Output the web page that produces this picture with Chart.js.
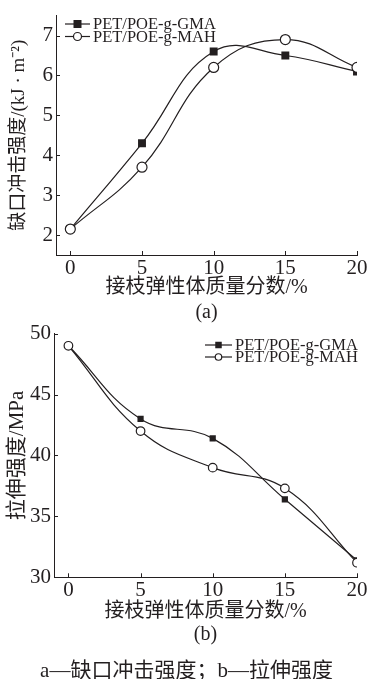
<!DOCTYPE html>
<html>
<head>
<meta charset="utf-8">
<script src="https://cdn.jsdelivr.net/npm/chart.js@4.4.1/dist/chart.umd.min.js"></script>
<style>
  html, body { margin: 0; padding: 0; background: #fff; }
  body { width: 369px; height: 679px; position: relative; overflow: hidden; }
  canvas { position: absolute; left: 0; }
  #chartA { top: 0; }
  #chartB { top: 318px; }
</style>
</head>
<body>
<canvas id="chartA" width="369" height="325"></canvas>
<canvas id="chartB" width="369" height="361"></canvas>
<script>
const contents = [0, 5, 10, 15, 20];
const impactGMA = [2.15, 4.3, 6.6, 6.5, 6.1];
const impactMAH = [2.15, 3.7, 6.2, 6.9, 6.2];
const tensileGMA = [49, 43, 41.4, 36.4, 31.4];
const tensileMAH = [49, 42, 39, 37.3, 31.2];
const xTicks = [0, 5, 10, 15, 20];
const impactTicks = [2, 3, 4, 5, 6, 7];
const tensileTicks = [30, 35, 40, 45, 50];
const seriesNames = ['PET/POE-g-GMA', 'PET/POE-g-MAH'];

const ink = '#231f20';
const serif = '"Liberation Serif", "Noto Sans CJK SC", serif';

const toPoints = (ys) => contents.map((x, i) => ({ x: x, y: ys[i] }));

// short tick marks pointing into the plot
const innerTicks = {
  id: 'innerTicks',
  afterDraw(chart) {
    const { ctx, chartArea: a, scales: { x, y } } = chart;
    ctx.save();
    ctx.strokeStyle = ink;
    ctx.lineWidth = 1;
    ctx.beginPath();
    x.ticks.forEach(t => {
      const px = Math.round(x.getPixelForValue(t.value)) + 0.5;
      ctx.moveTo(px, a.bottom);
      ctx.lineTo(px, a.bottom - 4);
    });
    y.ticks.forEach(t => {
      const py = Math.round(y.getPixelForValue(t.value)) + 0.5;
      ctx.moveTo(a.left, py);
      ctx.lineTo(a.left + 4, py);
    });
    ctx.stroke();
    ctx.restore();
  }
};

// legend entries drawn as line + marker, placed inside the plot
const lineLegend = {
  id: 'lineLegend',
  afterDraw(chart, args, opts) {
    const ctx = chart.ctx;
    ctx.save();
    ctx.font = opts.fontSize + 'px ' + serif;
    ctx.textBaseline = 'middle';
    ctx.textAlign = 'left';
    chart.data.datasets.forEach((ds, i) => {
      const y = opts.y + i * opts.rowGap;
      const mid = opts.x + opts.lineLen / 2;
      ctx.strokeStyle = ink;
      ctx.lineWidth = 1.2;
      ctx.beginPath();
      ctx.moveTo(opts.x, y);
      ctx.lineTo(opts.x + opts.lineLen, y);
      ctx.stroke();
      ctx.beginPath();
      if (ds.pointStyle === 'rect') {
        const s = opts.markSize;
        ctx.fillStyle = ink;
        ctx.fillRect(mid - s / 2, y - s / 2, s, s);
      } else {
        ctx.fillStyle = '#fff';
        ctx.arc(mid, y, opts.markSize / 2, 0, Math.PI * 2);
        ctx.fill();
        ctx.stroke();
      }
      ctx.fillStyle = ink;
      ctx.fillText(ds.label, opts.x + opts.lineLen + 3, y + 1);
    });
    ctx.restore();
  }
};

function makeDatasets(gma, mah, rectR, circR) {
  return [
    {
      label: seriesNames[0],
      data: toPoints(gma),
      borderColor: ink,
      borderWidth: 1.2,
      backgroundColor: ink,
      pointStyle: 'rect',
      pointRadius: rectR,
      pointBorderWidth: 0,
      tension: 0.42,
      order: 1
    },
    {
      label: seriesNames[1],
      data: toPoints(mah),
      borderColor: ink,
      borderWidth: 1.2,
      backgroundColor: '#fff',
      pointStyle: 'circle',
      pointRadius: circR,
      pointBorderWidth: 1.2,
      tension: 0.42,
      order: 0
    }
  ];
}

function makeOptions(cfg) {
  return {
    responsive: false,
    animation: false,
    layout: { padding: { top: cfg.padTop, right: 12, left: cfg.padLeft, bottom: 0 } },
    plugins: {
      legend: { display: false },
      tooltip: { enabled: false },
      title: cfg.caption ? {
        display: true,
        position: 'bottom',
        text: cfg.caption,
        color: ink,
        font: { family: serif, size: 21, weight: 'normal', lineHeight: 0.7 },
        padding: { top: 0, bottom: 0 }
      } : { display: false },
      lineLegend: cfg.legend
    },
    scales: {
      x: {
        type: 'linear',
        min: -1,
        max: 20,
        afterBuildTicks: (s) => { s.ticks = xTicks.map(v => ({ value: v })); },
        afterFit: (s) => { s.height = cfg.xHeight; },
        grid: { drawOnChartArea: false, drawTicks: false },
        border: { color: ink, width: 1 },
        ticks: { color: ink, padding: 1, font: { family: serif, size: 21 }, maxRotation: 0 },
        title: {
          display: true,
          text: ['接枝弹性体质量分数/%', cfg.tag],
          color: ink,
          font: { family: serif, size: 20, lineHeight: cfg.titleLH },
          padding: { top: 0, bottom: cfg.titlePad }
        }
      },
      y: {
        min: cfg.yMin,
        max: cfg.yMax,
        afterBuildTicks: (s) => { s.ticks = cfg.yTicks.map(v => ({ value: v })); },
        afterFit: (s) => { s.width = cfg.yWidth; },
        grid: { drawOnChartArea: false, drawTicks: false },
        border: { color: ink, width: 1 },
        ticks: { color: ink, padding: 3, font: { family: serif, size: 21 } },
        title: {
          display: true,
          text: cfg.yTitle,
          color: ink,
          font: { family: serif, size: cfg.yTitleSize },
          padding: { top: cfg.yTitlePad, bottom: 0 }
        }
      }
    }
  };
}

new Chart(document.getElementById('chartA'), {
  type: 'line',
  data: { datasets: makeDatasets(impactGMA, impactMAH, 5.6, 5) },
  options: makeOptions({
    padTop: 13,
    padLeft: 0,
    xHeight: 70,
    yWidth: 56,
    yMin: 1.5,
    yMax: 7.5,
    yTicks: impactTicks,
    yTitle: '缺口冲击强度/(kJ · m⁻²)',
    yTitleSize: 19,
    yTitlePad: 8,
    tag: '(a)',
    titleLH: 1.25,
    titlePad: 0,
    legend: { x: 65, y: 24, rowGap: 12.5, lineLen: 25, markSize: 8, fontSize: 16.5 }
  }),
  plugins: [innerTicks, lineLegend]
});

new Chart(document.getElementById('chartB'), {
  type: 'line',
  data: { datasets: makeDatasets(tensileGMA, tensileMAH, 4.4, 4.3) },
  options: makeOptions({
    padTop: 14,
    padLeft: 16,
    xHeight: 87,
    yWidth: 38,
    yMin: 30,
    yMax: 50,
    yTicks: tensileTicks,
    yTitle: '拉伸强度/MPa',
    yTitleSize: 21,
    yTitlePad: -11.6,
    tag: '(b)',
    titleLH: 1.15,
    titlePad: 18,
    caption: 'a—缺口冲击强度；b—拉伸强度',
    legend: { x: 205, y: 27, rowGap: 12, lineLen: 27, markSize: 6.5, fontSize: 16.5 }
  }),
  plugins: [innerTicks, lineLegend]
});
</script>
</body>
</html>
